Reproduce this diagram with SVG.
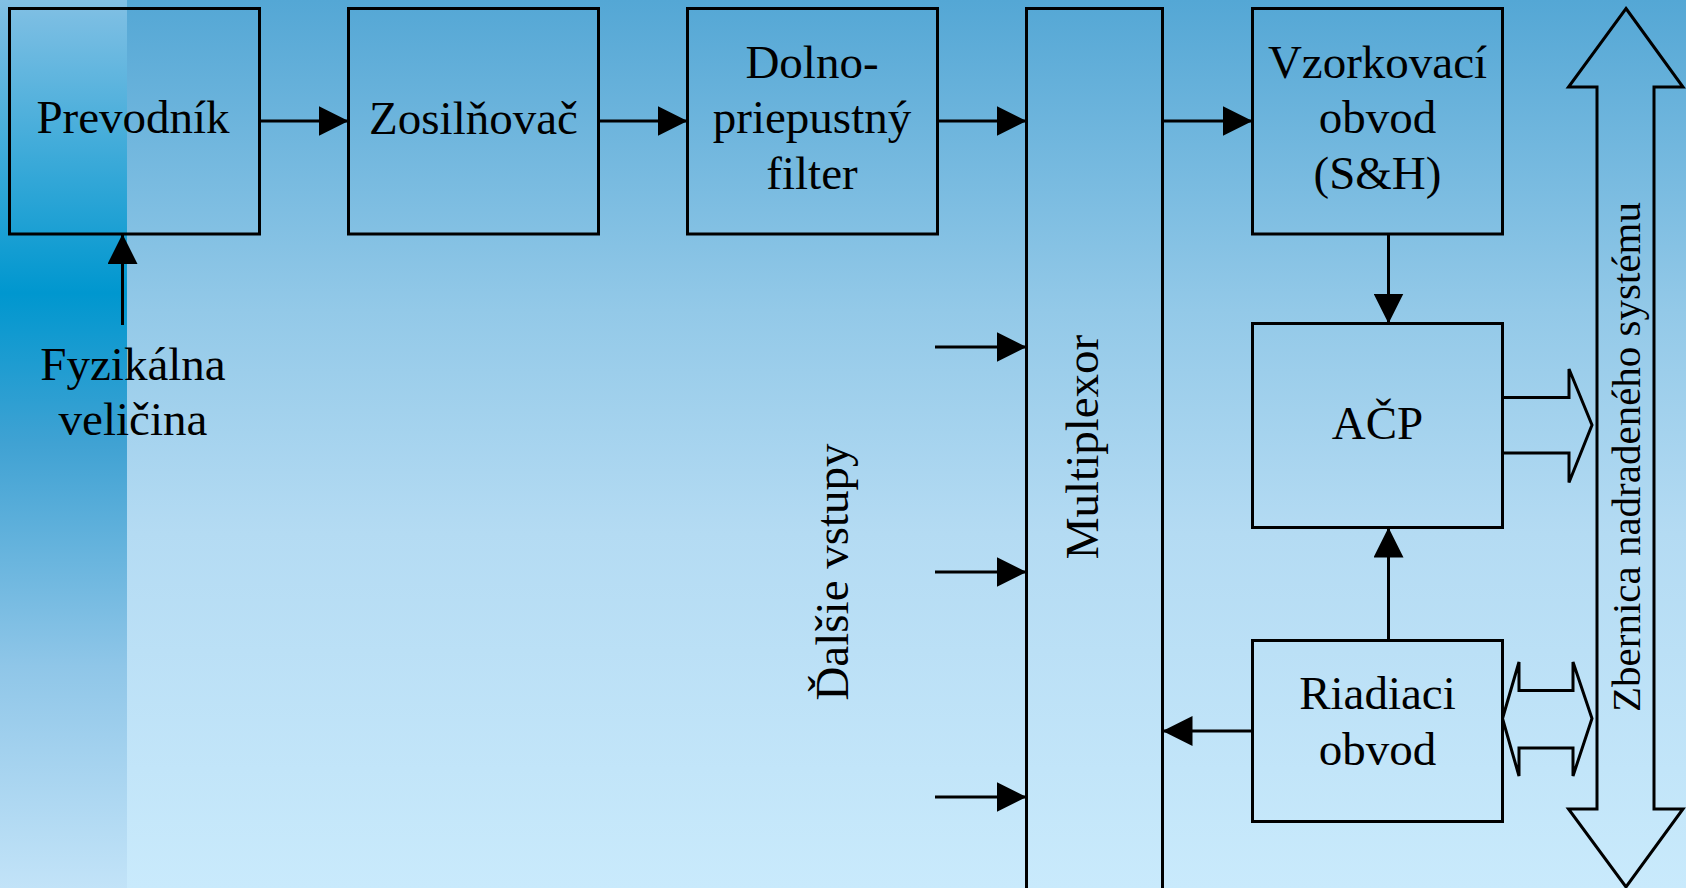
<svg xmlns="http://www.w3.org/2000/svg" width="1686" height="888" viewBox="0 0 1686 888">
  <defs>
    <linearGradient id="bg" x1="0" y1="0" x2="0" y2="1">
      <stop offset="0" stop-color="#54a7d5"/>
      <stop offset="0.35" stop-color="#93c9e8"/>
      <stop offset="0.6" stop-color="#b4dbf3"/>
      <stop offset="1" stop-color="#c9eafc"/>
    </linearGradient>
    <linearGradient id="strip" x1="0" y1="0" x2="0" y2="1">
      <stop offset="0" stop-color="#82c0e4"/>
      <stop offset="0.33" stop-color="#0097cf"/>
      <stop offset="0.5" stop-color="#40a2d3"/>
      <stop offset="0.75" stop-color="#8fc6e8"/>
      <stop offset="1" stop-color="#c2e3f8"/>
    </linearGradient>
    <marker id="arr" markerUnits="userSpaceOnUse" markerWidth="30" markerHeight="30" refX="30" refY="15" orient="auto" viewBox="0 0 30 30">
      <path d="M0,0 L30,15 L0,30 z" fill="#000"/>
    </marker>
    <style>
      .box { fill: none; stroke: #000; stroke-width: 3; }
      .wide { fill: none; stroke: #000; stroke-width: 3; stroke-linejoin: miter; }
      .con { fill: none; stroke: #000; stroke-width: 3; marker-end: url(#arr); }
      .t { font-family: "Liberation Serif", "Times New Roman", serif; font-size: 47px; fill: #000; text-anchor: middle; }
      .ts { font-family: "Liberation Serif", "Times New Roman", serif; font-size: 41px; fill: #000; text-anchor: middle; }
    </style>
  </defs>

  <rect x="0" y="0" width="1686" height="888" fill="url(#bg)"/>
  <rect x="0" y="0" width="127" height="888" fill="url(#strip)"/>

  <g id="prevodnik">
    <rect class="box" x="9.5" y="8.5" width="250" height="225.5"/>
    <text class="t" x="133" y="133">Prevodník</text>
  </g>
  <g id="fyzikalna">
    <text class="t" x="133" y="380">Fyzikálna</text>
    <text class="t" x="133" y="435">veličina</text>
  </g>
  <g id="zosilnovac">
    <rect class="box" x="348.5" y="8.5" width="250" height="225.5"/>
    <text class="t" x="473.5" y="134">Zosilňovač</text>
  </g>
  <g id="filter">
    <rect class="box" x="687.5" y="8.5" width="250" height="225.5"/>
    <text class="t" x="812" y="77.5">Dolno-</text>
    <text class="t" x="812" y="133">priepustný</text>
    <text class="t" x="812" y="189">filter</text>
  </g>
  <g id="multiplexor">
    <rect class="box" x="1026.5" y="8.5" width="136" height="895"/>
    <text class="t" transform="translate(1098,447) rotate(-90)" x="0" y="0">Multiplexor</text>
  </g>
  <g id="dalsie">
    <text class="t" transform="translate(848,572) rotate(-90)" x="0" y="0">Ďalšie vstupy</text>
  </g>
  <g id="vzorkovaci">
    <rect class="box" x="1252.5" y="8.5" width="250" height="225.5"/>
    <text class="t" x="1377.5" y="77.5">Vzorkovací</text>
    <text class="t" x="1377.5" y="133">obvod</text>
    <text class="t" x="1377.5" y="189">(S&amp;H)</text>
  </g>
  <g id="acp">
    <rect class="box" x="1252.5" y="323.5" width="250" height="204"/>
    <text class="t" x="1377.5" y="439">AČP</text>
  </g>
  <g id="riadiaci">
    <rect class="box" x="1252.5" y="640.5" width="250" height="181"/>
    <text class="t" x="1377.5" y="709">Riadiaci</text>
    <text class="t" x="1377.5" y="765">obvod</text>
  </g>
  <g id="bus">
    <path class="wide" d="M1626,8.5 L1683,87 L1654,87 L1654,809 L1683,809 L1626,887 L1568.5,809 L1597,809 L1597,87 L1568.5,87 Z"/>
    <text class="ts" transform="translate(1640,457) rotate(-90)" x="0" y="0">Zbernica nadradeného systému</text>
  </g>

  <g id="connectors">
    <line class="con" x1="259.5" y1="121" x2="348.5" y2="121"/>
    <line class="con" x1="598.5" y1="121" x2="687.5" y2="121"/>
    <line class="con" x1="937.5" y1="121" x2="1026.5" y2="121"/>
    <line class="con" x1="1162.5" y1="121" x2="1252.5" y2="121"/>
    <line class="con" x1="1388.5" y1="234" x2="1388.5" y2="323.5"/>
    <line class="con" x1="1388.5" y1="640.5" x2="1388.5" y2="527.5"/>
    <line class="con" x1="1252.5" y1="731" x2="1162.5" y2="731"/>
    <line class="con" x1="122.5" y1="325" x2="122.5" y2="234"/>
    <line class="con" x1="935" y1="347" x2="1026.5" y2="347"/>
    <line class="con" x1="935" y1="572" x2="1026.5" y2="572"/>
    <line class="con" x1="935" y1="797" x2="1026.5" y2="797"/>
    <path class="wide" d="M1502.5,397.5 L1569,397.5 L1569,369 L1592,425 L1569,482.5 L1569,453 L1502.5,453 Z"/>
    <path class="wide" d="M1502.5,718.5 L1519,662 L1519,690.5 L1573,690.5 L1573,662 L1592,718.5 L1573,776 L1573,748 L1519,748 L1519,776 Z"/>
  </g>
</svg>
